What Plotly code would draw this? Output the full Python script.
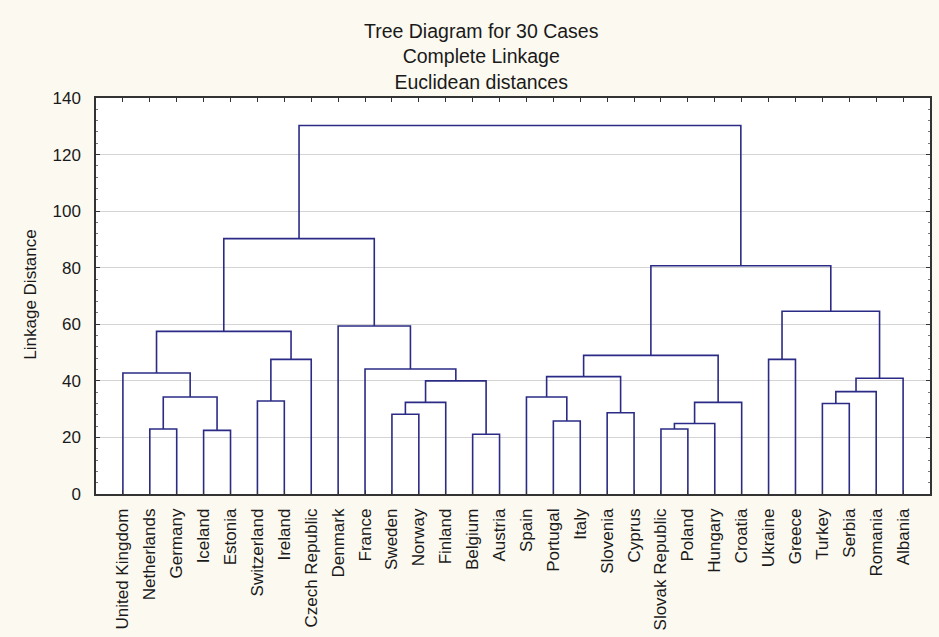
import plotly.graph_objects as go

# ---- data ----
leaf_labels = ["United Kingdom", "Netherlands", "Germany", "Iceland", "Estonia",
               "Switzerland", "Ireland", "Czech Republic", "Denmark", "France",
               "Sweden", "Norway", "Finland", "Belgium", "Austria", "Spain",
               "Portugal", "Italy", "Slovenia", "Cyprus", "Slovak Republic",
               "Poland", "Hungary", "Croatia", "Ukraine", "Greece", "Turkey",
               "Serbia", "Romania", "Albania"]

# linkage: child ids < 30 are leaves, >= 30 refer to earlier merges (30 + index)
merge_left = [1, 3, 30, 0, 5, 34, 33, 10, 37, 13, 38, 9, 8, 36,
              16, 15, 18, 45, 20, 48, 49, 47, 24, 26, 53, 54, 52, 51, 43]
merge_right = [2, 4, 31, 32, 6, 7, 35, 11, 12, 14, 39, 40, 41, 42,
               17, 44, 19, 46, 21, 22, 23, 50, 25, 27, 28, 29, 55, 56, 57]
merge_height = [23.0, 22.5, 34.3, 42.8, 32.9, 47.6, 57.5, 28.2, 32.4, 21.1, 40.0, 44.2, 59.4, 90.3,
                25.8, 34.3, 28.7, 41.5, 23.0, 24.9, 32.4, 49.0, 47.6, 32.0, 36.2, 40.9, 64.6, 80.7, 130.3]

y_ticks = [0, 20, 40, 60, 80, 100, 120, 140]

# ---- build dendrogram segments ----
n = len(leaf_labels)
pos = {i: float(i + 1) for i in range(n)}
hgt = {i: 0.0 for i in range(n)}
xs, ys = [], []
for k, (a, b, h) in enumerate(zip(merge_left, merge_right, merge_height)):
    xa, xb = pos[a], pos[b]
    xs += [xa, xa, xb, xb, None]
    ys += [hgt[a], h, h, hgt[b], None]
    pos[n + k] = (xa + xb) / 2
    hgt[n + k] = h

line_col = "#2B2B86"
fig = go.Figure()
fig.add_trace(go.Scatter(x=xs, y=ys, mode="lines",
                         line=dict(color=line_col, width=1.6),
                         hoverinfo="skip", showlegend=False))

font = "Liberation Sans, Arial, sans-serif"
fig.update_layout(
    width=939, height=637,
    margin=dict(l=96, r=7, t=98, b=138),
    paper_bgcolor="#FCF9F0",
    plot_bgcolor="#FFFFFF",
    font=dict(family=font, size=17, color="#1a1a1a"),
    xaxis=dict(range=[0, n + 1], tickmode="array",
               tickvals=[i + 1 for i in range(n)], ticktext=leaf_labels,
               tickangle=-90, ticks="inside", ticklen=4, tickcolor="#333",
               showline=True, linecolor="#333", linewidth=1.5, mirror="ticks",
               showgrid=False, zeroline=False, ticklabelstandoff=6,
               tickfont=dict(size=17)),
    yaxis=dict(range=[0, 140], tickmode="array", tickvals=y_ticks,
               ticks="inside", ticklen=4, tickcolor="#333",
               minor=dict(dtick=4, ticks="inside", ticklen=2, tickcolor="#777", showgrid=False),
               showline=True, linecolor="#333", linewidth=1.5, mirror="ticks",
               showgrid=True, gridcolor="#D4D4D4", gridwidth=1, zeroline=False,
               ticklabelstandoff=10, tickfont=dict(size=17)),
    annotations=[
        dict(text="Tree Diagram for 30 Cases<br>Complete Linkage<br>Euclidean distances",
             xref="paper", yref="paper", x=(482 - 96) / 836, y=(499 - 56) / 401,
             xanchor="center", yanchor="middle", showarrow=False,
             font=dict(size=19.5, family=font, color="#1a1a1a")),
        dict(text="Linkage Distance", xref="paper", yref="paper",
             x=(30 - 96) / 836, y=(499 - 297) / 401, textangle=-90,
             xanchor="center", yanchor="middle", showarrow=False,
             font=dict(size=17, family=font, color="#1a1a1a")),
    ],
)

fig.write_html("out.html", config={"displayModeBar": False},
               post_script="document.body.style.margin='0';document.body.style.background='#FCF9F0';")
